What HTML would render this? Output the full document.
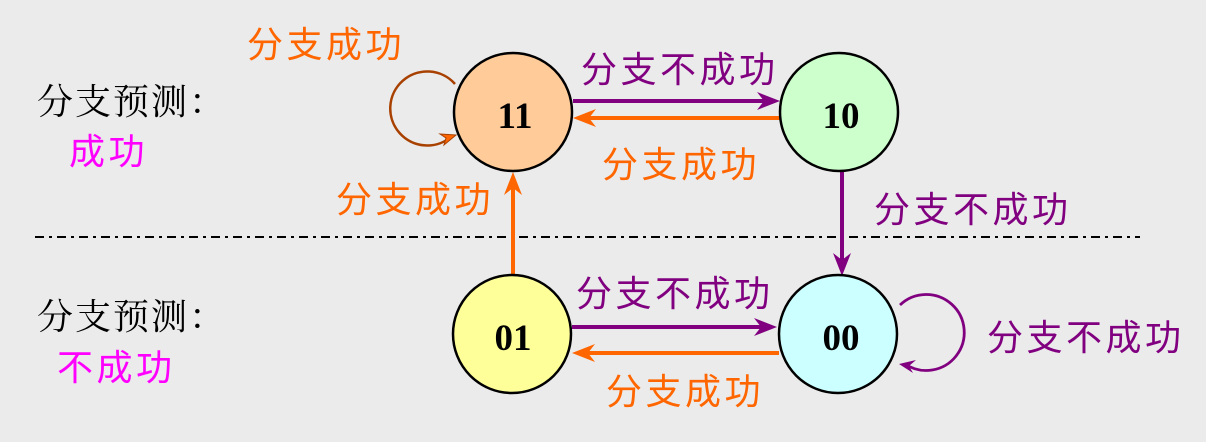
<!DOCTYPE html>
<html><head><meta charset="utf-8">
<style>
html,body{margin:0;padding:0;background:#ebebeb;}
svg{display:block;}
.cj{font-family:"Liberation Sans","Noto Sans CJK SC",sans-serif;font-size:36px;letter-spacing:3.5px;}
.bk{font-family:"Liberation Serif","Noto Serif CJK SC",serif;font-size:36px;letter-spacing:2px;fill:#000;}
.num{font-family:"Liberation Serif",serif;font-weight:bold;font-size:37px;fill:#000;}
</style></head><body>
<svg width="1206" height="442" viewBox="0 0 1206 442" xmlns="http://www.w3.org/2000/svg">
<rect width="1206" height="442" fill="#ebebeb"/>
<!-- dash-dot divider -->
<line x1="35" y1="237" x2="1140" y2="237" stroke="#000" stroke-width="2" stroke-dasharray="9 5 3 5"/>

<!-- horizontal arrows top -->
<line x1="573" y1="101" x2="766" y2="101" stroke="#800080" stroke-width="4"/>
<path d="M780,101 L757,92 L764,101 L757,110 Z" fill="#800080"/>
<line x1="780" y1="118" x2="587" y2="118" stroke="#ff6600" stroke-width="4"/>
<path d="M573,118 L596,109 L589,118 L596,127 Z" fill="#ff6600"/>

<!-- horizontal arrows bottom -->
<line x1="572" y1="327" x2="763" y2="327" stroke="#800080" stroke-width="4"/>
<path d="M777,327 L754,318 L761,327 L754,336 Z" fill="#800080"/>
<line x1="779" y1="353" x2="586" y2="353" stroke="#ff6600" stroke-width="4"/>
<path d="M572,353 L595,344 L588,353 L595,362 Z" fill="#ff6600"/>

<!-- vertical arrows -->
<line x1="513" y1="276" x2="513" y2="187" stroke="#ff6600" stroke-width="4"/>
<path d="M513,172 L504,195 L513,188 L522,195 Z" fill="#ff6600"/>
<line x1="842" y1="170" x2="842" y2="261" stroke="#800080" stroke-width="4"/>
<path d="M842,276 L833,253 L842,260 L851,253 Z" fill="#800080"/>

<!-- self loops -->
<path d="M455,84 A37,37 0 1 0 452,136" fill="none" stroke="#a84000" stroke-width="2.5"/>
<path d="M456,135 L440,134 L446,138 L444,145 Z" fill="#ff6600" stroke="#a84000" stroke-width="1"/>
<path d="M900,305 A38,38 0 1 1 905,364" fill="none" stroke="#800080" stroke-width="2.8"/>
<path d="M899,364 L916,360 L909,366 L913,373 Z" fill="#800080"/>

<!-- circles -->
<circle cx="513" cy="112" r="59" fill="#ffcc99" stroke="#000" stroke-width="2.5"/>
<circle cx="839" cy="112" r="59" fill="#ccffcc" stroke="#000" stroke-width="2.5"/>
<circle cx="512" cy="334" r="59" fill="#ffff99" stroke="#000" stroke-width="2.5"/>
<circle cx="838" cy="334" r="59" fill="#ccffff" stroke="#000" stroke-width="2.5"/>
<text class="num" x="515" y="128" text-anchor="middle">11</text>
<text class="num" x="841" y="128" text-anchor="middle">10</text>
<text class="num" x="513" y="350" text-anchor="middle">01</text>
<text class="num" x="841" y="350" text-anchor="middle">00</text>

<!-- labels -->
<text class="cj" x="247" y="57" fill="#ff6600">分支成功</text>
<text class="cj" x="581" y="82" fill="#800080">分支不成功</text>
<text class="cj" x="602" y="177" fill="#ff6600">分支成功</text>
<text class="cj" x="336" y="212" fill="#ff6600">分支成功</text>
<text class="cj" x="874" y="222" fill="#800080">分支不成功</text>
<text class="cj" x="576" y="306" fill="#800080">分支不成功</text>
<text class="cj" x="606" y="404" fill="#ff6600">分支成功</text>
<text class="cj" x="987" y="350" fill="#800080">分支不成功</text>

<text class="bk" x="37" y="114">分支预测：</text>
<text class="bk" x="37" y="329">分支预测：</text>
<text class="cj" x="69" y="164" fill="#ff00ff">成功</text>
<text class="cj" x="57" y="380" fill="#ff00ff">不成功</text>
</svg>
</body></html>
